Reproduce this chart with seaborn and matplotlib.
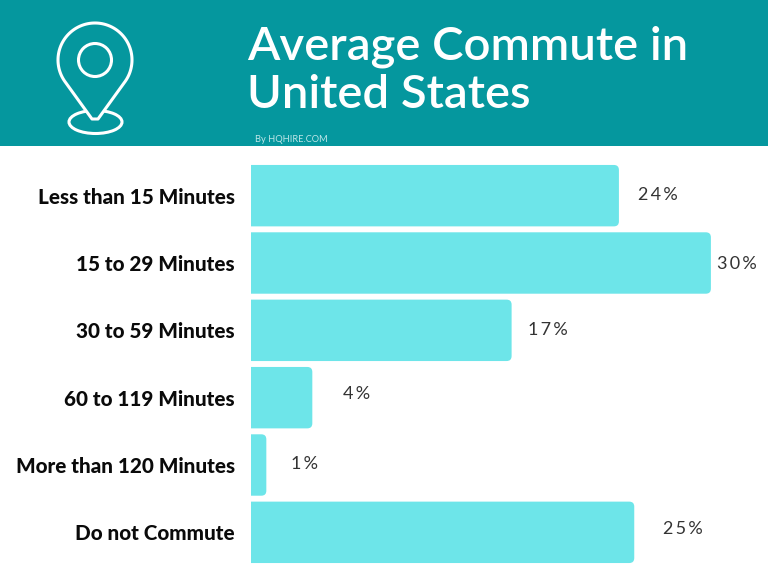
import numpy as np
import pandas as pd
import matplotlib.pyplot as plt
import seaborn as sns
from matplotlib.patches import Circle, Ellipse, FancyBboxPatch, PathPatch, Rectangle
from matplotlib.path import Path
from matplotlib.transforms import IdentityTransform

categories = ['Less than 15 Minutes', '15 to 29 Minutes', '30 to 59 Minutes',
              '60 to 119 Minutes', 'More than 120 Minutes', 'Do not Commute']
shares = [24, 30, 17, 4, 1, 25]
share_labels = ['2\u20094\u2009%', '3\u20090\u2009%', '1\u20097\u2009%', '4\u2009%', '1\u2009%', '2\u20095\u2009%']

# the labels sit a bit unevenly in the original (pixels from bar end / bar centre)
label_dx = [19, 6, 16, 31, 25, 29]
label_dy = [-1, 1, 0, -4, -1, -3]

HEADER = '#05979E'
BAR = '#6DE5E9'

sns.set_theme(style='white')
plt.rcParams['font.family'] = ['Lato', 'DejaVu Sans']

fig = plt.figure(figsize=(7.68, 5.76), dpi=100, facecolor='white')

# chart area in pixels: left 251, top 162, bottom 566
ax = fig.add_axes([251 / 768, (576 - 566) / 576, (768 - 251) / 768, 404 / 576])
df = pd.DataFrame({'category': categories, 'share': shares})
sns.barplot(data=df, x='share', y='category', orient='h', color=BAR, saturation=1,
            width=0.912, ax=ax)
ax.set_xlim(0, 517 / 15.33)
ax.set_ylim(5.5, -0.5)
ax.set_xlabel('')
ax.set_ylabel('')
ax.set_xticks([])
ax.tick_params(axis='y', length=0, pad=11.5)
for lab in ax.get_yticklabels():
    lab.set_fontsize(14.9)
    lab.set_fontweight('black')
    lab.set_color('#0a0a0a')
sns.despine(ax=ax, left=True, bottom=True)

# swap the square bars for ones with rounded ends, left side is cut by the axes
fig.canvas.draw()
for bar, txt, dx, dy in zip(list(ax.patches), share_labels, label_dx, label_dy):
    box = bar.get_window_extent()
    bar.set_visible(False)
    rounded = FancyBboxPatch((box.x0 - 20, box.y0 + 4), box.width + 20 - 4, box.height - 8,
                             boxstyle='round,pad=4,rounding_size=5', transform=IdentityTransform(),
                             facecolor=BAR, edgecolor='none')
    rounded.set_clip_path(ax.patch)
    ax.add_patch(rounded)
    ax.annotate(txt, xy=(box.x1, (box.y0 + box.y1) / 2), xycoords='figure pixels',
                xytext=(dx / 1.389, -dy / 1.389), textcoords='offset points',
                ha='left', va='center', fontsize=13, color='#333333', fontweight='normal')

# header band and icon, drawn in pixel coordinates
top = fig.add_axes([0, 0, 1, 1], facecolor='none')
top.set_xlim(0, 768)
top.set_ylim(576, 0)
top.axis('off')
top.add_patch(Rectangle((0, 0), 768, 146, facecolor=HEADER, edgecolor='none'))

top.add_patch(Ellipse((95.5, 122), 53, 23, fill=False, edgecolor='white', lw=2.2))

# pin outline: arc on top, straight sides to a tip
cx, cy, r = 95, 60, 37
theta = np.radians(np.linspace(-215, 35, 80))
arc = np.column_stack([cx + r * np.cos(theta), cy + r * np.sin(theta)])
pin = np.vstack([arc, [[98, 119], [92, 119]], arc[:1]])
top.add_patch(PathPatch(Path(pin, closed=True), facecolor=HEADER, edgecolor='white', lw=2.2,
                        joinstyle='round'))
top.add_patch(Circle((95, 60), 16.5, fill=False, edgecolor='white', lw=2.2))

top.text(247, 47, 'Average Commute in', color='white', fontsize=34, fontweight='semibold',
         ha='left', va='center')
top.text(247, 95, 'United States', color='white', fontsize=34, fontweight='semibold',
         ha='left', va='center')
top.text(255, 139, 'By HQHIRE.COM', color='#BFE6E8', fontsize=6.7, ha='left', va='center')

fig.savefig('out.png', dpi=100)
